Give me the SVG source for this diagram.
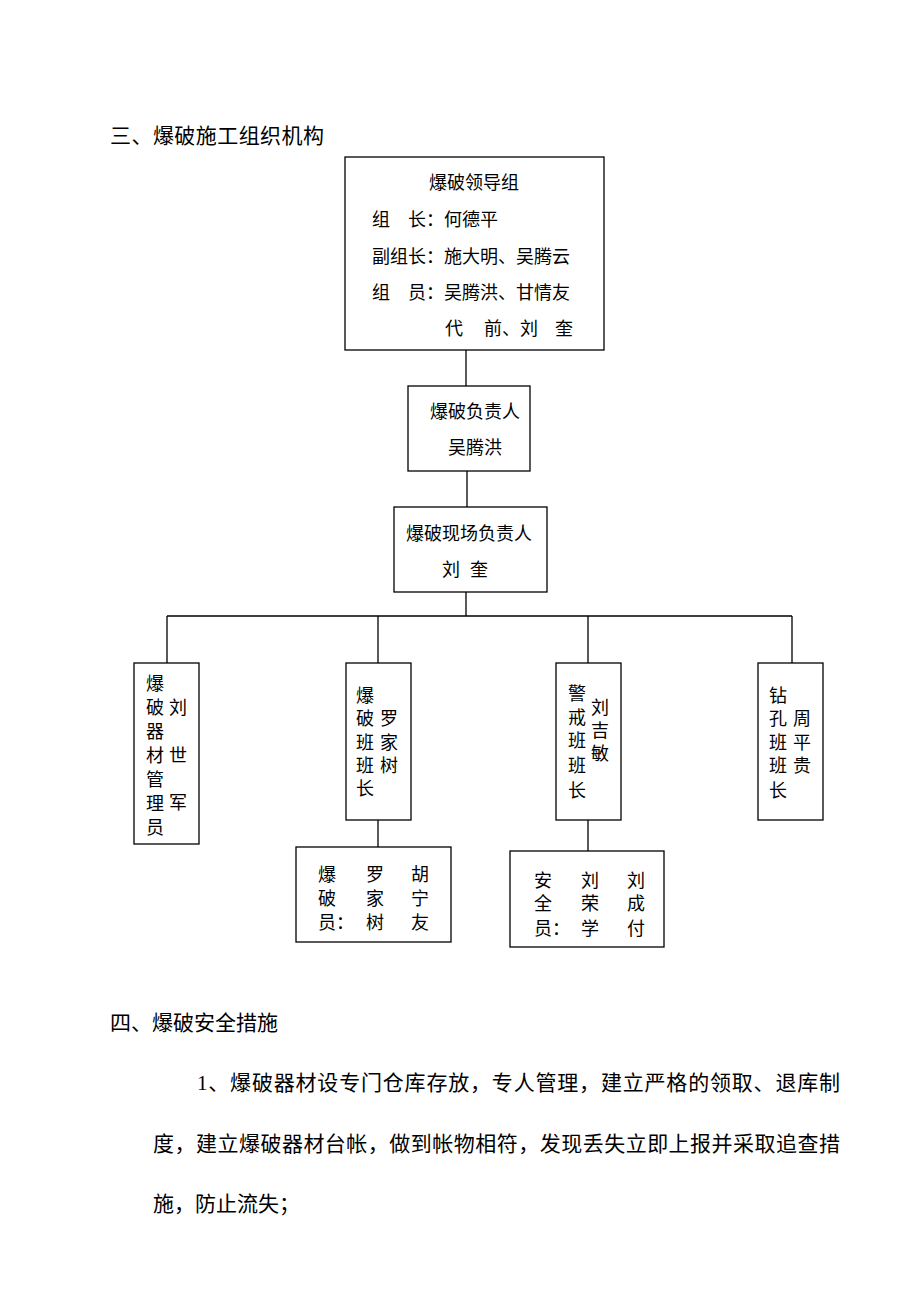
<svg xmlns="http://www.w3.org/2000/svg" width="920" height="1302" viewBox="0 0 920 1302">
<style>
.t{font-family:"Liberation Serif","Noto Sans CJK SC",serif;fill:#000;}
.s{font-size:18px;}
.m{text-anchor:middle;}
.b{font-size:21px;}
.box{fill:#fff;stroke:#000;stroke-width:1.3;}
.ln{stroke:#000;stroke-width:1.3;fill:none;}
</style>
<rect width="920" height="1302" fill="#fff"/>
<text class="t b" x="110" y="143" textLength="214" lengthAdjust="spacing">三、爆破施工组织机构</text>

<g id="connectors">
<path class="ln" d="M466 350V387M467 471V507M466 592V616M167 616H792M167 616V663M378 616V663M588 616V663M792 616V663M378 820V847M588 820V851"/>
</g>

<g id="leader-group">
<rect class="box" x="345" y="157" width="259" height="193"/>
<text class="t s m" x="474" y="189">爆破领导组</text>
<text class="t s" x="372" y="226">组　长：何德平</text>
<text class="t s" x="372" y="263">副组长：施大明、吴腾云</text>
<text class="t s" x="372" y="299">组　员：吴腾洪、甘情友</text>
<text class="t s" x="445" y="335">代</text>
<text class="t s" x="484" y="335">前、刘</text>
<text class="t s" x="555" y="335">奎</text>
</g>

<g id="blast-leader">
<rect class="box" x="408" y="386" width="122" height="85"/>
<text class="t s m" x="475" y="418">爆破负责人</text>
<text class="t s m" x="475" y="454">吴腾洪</text>
</g>

<g id="site-leader">
<rect class="box" x="394" y="507" width="153" height="85"/>
<text class="t s m" x="469" y="540">爆破现场负责人</text>
<text class="t s m" x="451" y="576">刘</text>
<text class="t s m" x="479" y="576">奎</text>
</g>

<g id="materials">
<rect class="box" x="134" y="663" width="65" height="181"/>
<g class="t s m">
<text x="155" y="690">爆</text><text x="155" y="714">破</text><text x="155" y="738">器</text><text x="155" y="762">材</text><text x="155" y="786">管</text><text x="155" y="810">理</text><text x="155" y="834">员</text>
<text x="178" y="714">刘</text><text x="178" y="762">世</text><text x="178" y="809">军</text>
</g>
</g>

<g id="blast-team">
<rect class="box" x="346" y="663" width="65" height="157"/>
<g class="t s m">
<text x="365" y="702">爆</text><text x="365" y="725">破</text><text x="365" y="749">班</text><text x="365" y="772">班</text><text x="365" y="795">长</text>
<text x="389" y="725">罗</text><text x="389" y="749">家</text><text x="389" y="772">树</text>
</g>
</g>

<g id="guard-team">
<rect class="box" x="556" y="663" width="65" height="157"/>
<g class="t s m">
<text x="577" y="700">警</text><text x="577" y="724">戒</text><text x="577" y="747">班</text><text x="577" y="772">班</text><text x="577" y="797">长</text>
<text x="600" y="714">刘</text><text x="600" y="737">吉</text><text x="600" y="760">敏</text>
</g>
</g>

<g id="drill-team">
<rect class="box" x="758" y="663" width="65" height="157"/>
<g class="t s m">
<text x="778" y="702">钻</text><text x="778" y="725">孔</text><text x="778" y="749">班</text><text x="778" y="772">班</text><text x="778" y="797">长</text>
<text x="802" y="725">周</text><text x="802" y="749">平</text><text x="802" y="772">贵</text>
</g>
</g>

<g id="blasters">
<rect class="box" x="296" y="847" width="155" height="95"/>
<g class="t s">
<text x="318" y="881">爆</text><text x="318" y="905">破</text><text x="318" y="929">员：</text>
<text class="m" x="375" y="881">罗</text><text class="m" x="375" y="905">家</text><text class="m" x="375" y="929">树</text>
<text class="m" x="420" y="881">胡</text><text class="m" x="420" y="905">宁</text><text class="m" x="420" y="929">友</text>
</g>
</g>

<g id="safety">
<rect class="box" x="510" y="851" width="154" height="96"/>
<g class="t s">
<text x="534" y="887">安</text><text x="534" y="910">全</text><text x="534" y="935">员：</text>
<text class="m" x="590" y="887">刘</text><text class="m" x="590" y="910">荣</text><text class="m" x="590" y="935">学</text>
<text class="m" x="636" y="887">刘</text><text class="m" x="636" y="910">成</text><text class="m" x="636" y="935">付</text>
</g>
</g>

<text class="t b" x="110" y="1030">四、爆破安全措施</text>
<text class="t b" x="197" y="1090" textLength="643" lengthAdjust="spacing">1、爆破器材设专门仓库存放，专人管理，建立严格的领取、退库制</text>
<text class="t b" x="153" y="1151" textLength="687" lengthAdjust="spacing">度，建立爆破器材台帐，做到帐物相符，发现丢失立即上报并采取追查措</text>
<text class="t b" x="153" y="1211">施，防止流失；</text>
</svg>
